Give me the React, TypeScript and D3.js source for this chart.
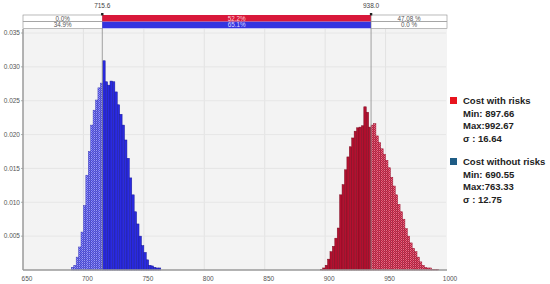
import * as d3 from "d3";

// histogram densities, bins 2 units wide
const binWidth = 2;
const blueStart = 690;
const blueDensity = [
  0.0004, 0.0007, 0.0019, 0.0034, 0.0056, 0.0095, 0.014, 0.0175, 0.0214, 0.0236,
  0.0251, 0.0269, 0.0276, 0.0309, 0.0278, 0.0273, 0.0279, 0.0278, 0.0263, 0.0244,
  0.023, 0.0214, 0.0192, 0.0165, 0.0136, 0.0111, 0.0086, 0.0068, 0.005, 0.0036,
  0.0026, 0.0015, 0.0007, 0.0006, 0.0004, 0.0003, 0.0003,
];
const redStart = 896;
const redDensity = [
  0.0001, 0.0003, 0.0007, 0.0016, 0.0027, 0.0035, 0.0047, 0.0062, 0.0111, 0.0126,
  0.0148, 0.0167, 0.0182, 0.0195, 0.0205, 0.021, 0.0211, 0.0213, 0.0241, 0.0233,
  0.0211, 0.0214, 0.0216, 0.0198, 0.0188, 0.0179, 0.0171, 0.0162, 0.0151, 0.0137,
  0.0124, 0.0111, 0.0097, 0.0086, 0.0075, 0.0061, 0.005, 0.004, 0.0032, 0.0027,
  0.0019, 0.0012, 0.0007, 0.0004, 0.0003, 0.0003, 0.0001, 0.0001, 0.0001,
];

const lowMark = 715.6;
const highMark = 938.0;
const redRow = ["0.0%", "52.2%", "47.08 %"];
const blueRow = ["34.9%", "65.1%", "0.0 %"];

const xTicks = [650, 700, 750, 800, 850, 900, 950, 1000];
const yTicks = [0.005, 0.01, 0.015, 0.02, 0.025, 0.03, 0.035];

const legend = [
  { name: "Cost with risks", color: "#e8141e", lines: ["Min: 897.66", "Max:992.67", "σ : 16.64"] },
  { name: "Cost without risks", color: "#1f5c85", lines: ["Min: 690.55", "Max:763.33", "σ : 12.75"] },
];

const W = 550;
const H = 284;
const left = 23;
const right = 446;
const bottom = 270;
const top = 29;

export default function App() {
  const x = d3.scaleLinear().domain([650, 1000]).range([left, right]);
  const y = d3.scaleLinear().domain([0, 0.035]).range([bottom, 33]);

  const blueBins = blueDensity.map((v, i) => ({ x0: blueStart + i * binWidth, v }));
  const redBins = redDensity.map((v, i) => ({ x0: redStart + i * binWidth, v }));

  const xl = x(lowMark);
  const xh = x(highMark);

  const bars = (bins: { x0: number; v: number }[], fill: string, stroke: string) =>
    bins.map((b, i) => (
      <rect
        key={i}
        x={x(b.x0)}
        y={y(b.v)}
        width={x(b.x0 + binWidth) - x(b.x0)}
        height={bottom - y(b.v)}
        fill={fill}
        stroke={stroke}
        strokeWidth={0.5}
      />
    ));

  const rowY = [15, 21.7];
  const rowH = 6.6;
  const font = "'Liberation Sans', Arial, sans-serif";

  return (
    <svg width={W} height={H} style={{ position: "absolute", left: 0, top: 0 }} fontFamily={font}>
      <defs>
        <pattern id="hatchBlue" width="2" height="2" patternUnits="userSpaceOnUse">
          <rect width="2" height="2" fill="#4b4be4" />
          <rect width="1" height="1" fill="#9a9af2" />
          <rect x="1" y="1" width="1" height="1" fill="#9a9af2" />
        </pattern>
        <pattern id="hatchRed" width="2" height="2" patternUnits="userSpaceOnUse">
          <rect width="2" height="2" fill="#c41b3f" />
          <rect width="1" height="1" fill="#e07388" />
          <rect x="1" y="1" width="1" height="1" fill="#e07388" />
        </pattern>
        <clipPath id="lowSide">
          <rect x={0} y={0} width={xl} height={H} />
        </clipPath>
        <clipPath id="midSide">
          <rect x={xl} y={0} width={W - xl} height={H} />
        </clipPath>
        <clipPath id="redLow">
          <rect x={0} y={0} width={xh} height={H} />
        </clipPath>
        <clipPath id="redHigh">
          <rect x={xh} y={0} width={W - xh} height={H} />
        </clipPath>
      </defs>

      <rect x={left} y={top} width={right - left + 1} height={bottom - top} fill="#f3f3f3" />

      {xTicks.slice(1, -1).map((t) => (
        <line key={t} x1={x(t)} x2={x(t)} y1={top} y2={bottom} stroke="#e2e2e2" strokeWidth={1} />
      ))}
      {yTicks.map((t) => (
        <line key={t} x1={left} x2={right} y1={y(t)} y2={y(t)} stroke="#e6e6e6" strokeWidth={1} />
      ))}

      <g clipPath="url(#lowSide)">{bars(blueBins, "url(#hatchBlue)", "#3a3ab8")}</g>
      <g clipPath="url(#midSide)">{bars(blueBins, "#2a2ae0", "#1a1a9a")}</g>
      <g clipPath="url(#redLow)">{bars(redBins, "#b3102f", "#7c0a20")}</g>
      <g clipPath="url(#redHigh)">{bars(redBins, "url(#hatchRed)", "#9a1530")}</g>

      {[xl, xh].map((v, i) => (
        <line key={i} x1={v} x2={v} y1={14} y2={bottom} stroke="#8a8a8a" strokeWidth={0.8} />
      ))}

      <line x1={left} x2={left} y1={top} y2={bottom} stroke="#9a9a9a" strokeWidth={1.5} />
      <line x1={left} x2={right + 1} y1={bottom} y2={bottom} stroke="#9a9a9a" strokeWidth={1.5} />

      {yTicks.map((t) => (
        <g key={t}>
          <line x1={left - 2} x2={left} y1={y(t)} y2={y(t)} stroke="#9a9a9a" strokeWidth={0.8} />
          <text x={left - 3} y={y(t)} dy="0.35em" textAnchor="end" fontSize={6.5} fill="#555">
            {t.toFixed(3)}
          </text>
        </g>
      ))}
      {xTicks.map((t) => (
        <text key={t} x={x(t) + 4} y={281} textAnchor="middle" fontSize={6.5} fill="#555">
          {t}
        </text>
      ))}

      {[redRow, blueRow].map((row, r) => {
        const segs = [
          [x(650), xl, "#fff", "#555"],
          [xl, xh, r === 0 ? "#d8183a" : "#3434e0", r === 0 ? "#ffd0d8" : "#d8d8ff"],
          [xh, x(1000) + 1, "#fff", "#555"],
        ] as [number, number, string, string][];
        return (
          <g key={r}>
            {segs.map(([a, b, fill, tc], i) => (
              <g key={i}>
                <rect x={a} y={rowY[r]} width={b - a} height={rowH} fill={fill} stroke={i === 1 ? "none" : "#8c8c8c"} strokeWidth={0.6} />
                <text x={(a + b) / 2} y={rowY[r] + rowH / 2} dy="0.35em" textAnchor="middle" fontSize={6.3} fill={tc}>
                  {row[i]}
                </text>
              </g>
            ))}
          </g>
        );
      })}

      {[lowMark, highMark].map((m) => (
        <g key={m}>
          <rect x={x(m) - 1.2} y={13} width={2.4} height={2.4} fill="#222" />
          <text x={x(m)} y={8} textAnchor="middle" fontSize={6.5} fill="#444">
            {m.toFixed(1)}
          </text>
        </g>
      ))}

      {legend.map((l, i) => {
        const y0 = 101 + i * 61;
        return (
          <g key={l.name}>
            <rect x={450} y={y0 - 4} width={7} height={7} fill={l.color} />
            <text x={463} y={y0} dy="0.35em" fontSize={9.5} fontWeight="bold" fill="#222">
              {l.name}
            </text>
            {l.lines.map((t, j) => (
              <text key={j} x={463} y={y0 + 12.4 * (j + 1)} dy="0.35em" fontSize={9.5} fontWeight="bold" fill="#222">
                {t}
              </text>
            ))}
          </g>
        );
      })}
    </svg>
  );
}
